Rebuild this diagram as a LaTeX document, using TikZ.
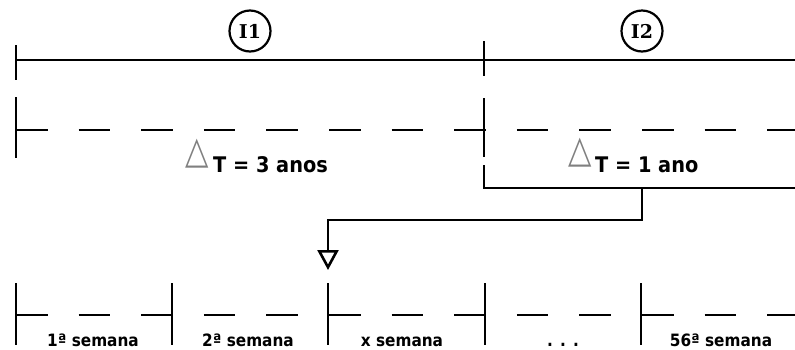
\documentclass[tikz,border=0pt]{standalone}
\usepackage{fontspec}
\newfontfamily\lab{DejaVu Sans Condensed}
\newfontfamily\sym{DejaVu Sans}
\newfontfamily\ser{DejaVu Serif}
\usetikzlibrary{arrows.meta}
\begin{document}
\begin{tikzpicture}[x=1pt,y=-1pt,
  line/.style={line width=2.8pt,black},
  tick/.style={line width=2.9pt,black},
  dline/.style={line width=2.8pt,black,dash pattern=on 31.5pt off 31.1pt},
  circ/.style={circle,draw,line width=2.2pt,minimum size=41pt,inner sep=0pt,font=\ser\bfseries\fontsize{19}{19}\selectfont},
  dt/.style={anchor=base west,inner sep=0pt,font=\lab\bfseries\fontsize{21.5}{21.5}\selectfont},
  tri/.style={anchor=base west,inner sep=0pt,text=gray,xscale=0.8,transform shape,font=\sym\fontsize{38}{38}\selectfont},
  wk/.style={anchor=base,inner sep=0pt,font=\lab\bfseries\fontsize{17}{17}\selectfont}]
\useasboundingbox (0,0) rectangle (795,349);
% top row
\coordinate (t0) at (16,60);
\coordinate (t1) at (484,60);
\coordinate (tend) at (795,60);
\draw[line] (t0) -- (tend);
\draw[tick] (16,45) -- (16,80);
\draw[tick] (484,41) -- (484,76);
\node[circ] (i1) at (250,31) {I1};
\node[circ] (i2) at (642,31) {I2};
% second row
\coordinate (d0) at (16,130);
\coordinate (dend) at (795,130);
\draw[dline] (d0) -- (dend);
\draw[tick] (16,97) -- (16,158);
\draw[tick] (484,98) -- (484,157);
\node[tri] (tr1) at (185,163) {△};
\node[dt] (l1) at (213,172) {T = 3 anos};
\node[tri] (tr2) at (568,162) {△};
\node[dt] (l2) at (595,172) {T = 1 ano};
% connector
\coordinate (c0) at (484,165);
\coordinate (c1) at (484,188);
\coordinate (c2) at (795,188);
\coordinate (c3) at (642,188);
\coordinate (c4) at (642,220);
\coordinate (c5) at (328,220);
\coordinate (c6) at (328,270);
\draw[line] (c0) -- (c1) -- (c2);
\draw[line,-{Triangle[open,length=20pt,width=21pt,line width=2.6pt]}] (c3) -- (c4) -- (c5) -- (c6);
% bottom row
\coordinate (b0) at (16,315);
\coordinate (bend) at (795,315);
\draw[dline] (b0) -- (bend);
\foreach \x in {16,172,328,485,641}{\draw[tick] (\x,283) -- (\x,345);}
\node[wk] (w1) at (93,346) {1ª semana};
\node[wk] (w2) at (248,346) {2ª semana};
\node[wk] (w3) at (402,346) {x semana};
\node[wk] (w4) at (563,346) {. . .};
\node[wk] (w5) at (721,346) {56ª semana};
\end{tikzpicture}
\end{document}
